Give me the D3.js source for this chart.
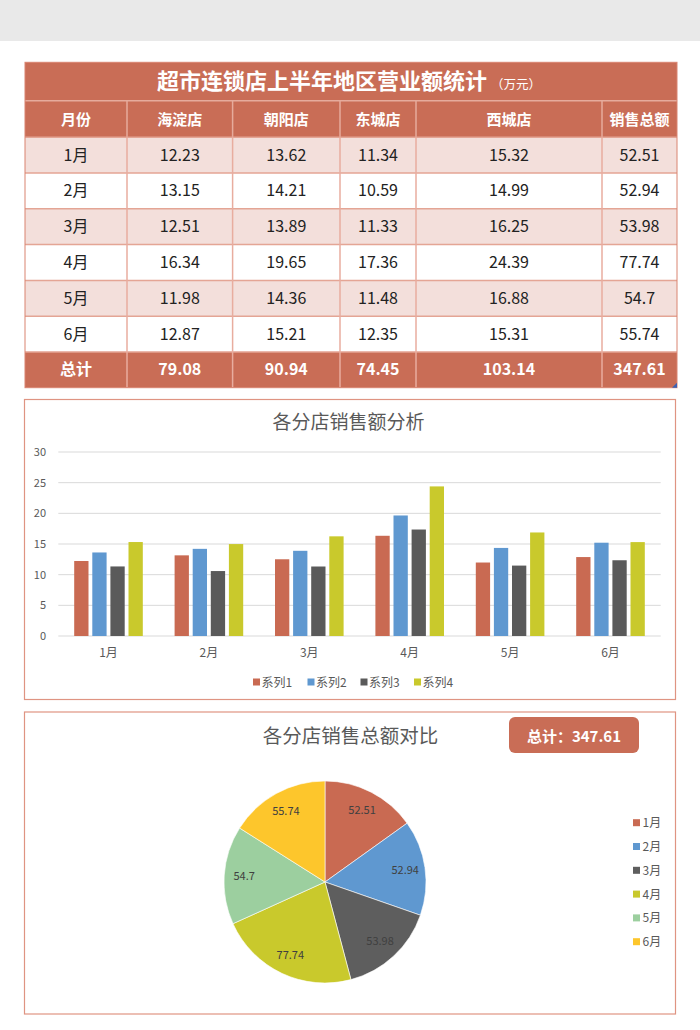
<!DOCTYPE html>
<html><head><meta charset="utf-8">
<script src="https://cdn.jsdelivr.net/npm/d3@7"></script>
<style>
html,body{margin:0;padding:0;background:#fff;}
svg{display:block;font-family:"Noto Sans CJK SC","Noto Sans",sans-serif;}
</style></head>
<body><svg id="c" width="700" height="1030"></svg>
<script>
const months = ['1月','2月','3月','4月','5月','6月'];
const stores = ['海淀店','朝阳店','东城店','西城店'];
const haidian   = [12.23,13.15,12.51,16.34,11.98,12.87];
const chaoyang  = [13.62,14.21,13.89,19.65,14.36,15.21];
const dongcheng = [11.34,10.59,11.33,17.36,11.48,12.35];
const xicheng   = [15.32,14.99,16.25,24.39,16.88,15.31];
const monthTotals = [52.51,52.94,53.98,77.74,54.7,55.74];
const storeTotals = [79.08,90.94,74.45,103.14];
const grandTotal = 347.61;
const seriesNames = ['系列1','系列2','系列3','系列4'];
const yTicks = [0,5,10,15,20,25,30];

const svg = d3.select('#c');
const HEAD = '#c96d56';
const barColors = ['#c96a52','#5f98d0','#5a5a5a','#c9c92c'];
const pieColors = ['#c96a52','#5f98d0','#5e5e5e','#c9c92c','#9ccf9f','#fdc62c'];
const panelBorder = '#df9482';

// gray top band
svg.append('rect').attr('x',0).attr('y',0).attr('width',700).attr('height',41).attr('fill','#e9e9e9');

// ---------- Table ----------
const colEdges = [25,127,232.6,340,416,602,677];
const tTop = 62.3, headTop = 100.7, rowTop = 137.3, rowH = 35.77;
svg.append('rect').attr('x',25).attr('y',tTop).attr('width',652).attr('height',headTop-tTop).attr('fill',HEAD);
svg.append('rect').attr('x',25).attr('y',headTop).attr('width',652).attr('height',rowTop-headTop).attr('fill',HEAD);
const title = svg.append('text').attr('x',349).attr('y',89).attr('text-anchor','middle').attr('fill','#fff');
title.append('tspan').attr('font-size',22).attr('font-weight','bold').text('超市连锁店上半年地区营业额统计');
title.append('tspan').attr('font-size',12.5).attr('dx',4).text('（万元）');

const headers = ['月份'].concat(stores).concat(['销售总额']);
const colCenter = i => (colEdges[i]+colEdges[i+1])/2;
for(let i=1;i<colEdges.length-1;i++){
  svg.append('line').attr('x1',colEdges[i]).attr('x2',colEdges[i]).attr('y1',headTop).attr('y2',rowTop)
    .attr('stroke','#e6ab9c').attr('stroke-width',1.5);
}
svg.append('line').attr('x1',25).attr('x2',677).attr('y1',headTop).attr('y2',headTop).attr('stroke','#e6ab9c').attr('stroke-width',1.5);
headers.forEach((h,i)=>{
  svg.append('text').attr('x',colCenter(i)).attr('y',rowTop-(rowTop-headTop)/2+5.5).attr('text-anchor','middle')
    .attr('fill','#fff').attr('font-size',15).attr('font-weight','bold').text(h);
});
const storeData = [haidian,chaoyang,dongcheng,xicheng];
months.forEach((m,r)=>{
  const y = rowTop + r*rowH;
  svg.append('rect').attr('x',25).attr('y',y).attr('width',652).attr('height',rowH)
    .attr('fill', r%2===0 ? '#f3dfdb' : '#ffffff');
  const vals = [m].concat(storeData.map(s=>String(s[r]))).concat([String(monthTotals[r])]);
  vals.forEach((v,i)=>{
    svg.append('text').attr('x',colCenter(i)).attr('y',y+rowH/2+5.5).attr('text-anchor','middle')
      .attr('fill','#222').attr('font-size',16).text(v);
  });
});
const ty = rowTop + 6*rowH;
svg.append('rect').attr('x',25).attr('y',ty).attr('width',652).attr('height',rowH).attr('fill',HEAD);
const totVals = ['总计'].concat(storeTotals.map(String)).concat([String(grandTotal)]);
totVals.forEach((v,i)=>{
  svg.append('text').attr('x',colCenter(i)).attr('y',ty+rowH/2+5.5).attr('text-anchor','middle')
    .attr('fill','#fff').attr('font-size',16).attr('font-weight','bold').text(v);
});
for(let r=0;r<=6;r++){
  svg.append('line').attr('x1',25).attr('x2',677).attr('y1',rowTop+r*rowH).attr('y2',rowTop+r*rowH)
    .attr('stroke','#e4a595').attr('stroke-width',1.5);
}
for(let i=1;i<colEdges.length-1;i++){
  svg.append('line').attr('x1',colEdges[i]).attr('x2',colEdges[i]).attr('y1',rowTop).attr('y2',ty+rowH)
    .attr('stroke','#e8ad9f').attr('stroke-width',1.5);
}
svg.append('rect').attr('x',25).attr('y',tTop).attr('width',652).attr('height',ty+rowH-tTop)
  .attr('fill','none').attr('stroke','#d98470').attr('stroke-width',1);
svg.append('path').attr('d',`M677,${ty+rowH-5} L677,${ty+rowH} L672,${ty+rowH} Z`).attr('fill','#3b63b5');

// ---------- Bar chart ----------
svg.append('rect').attr('x',24.5).attr('y',399.5).attr('width',651).attr('height',300)
  .attr('fill','#fff').attr('stroke',panelBorder).attr('stroke-width',1.2);
svg.append('text').attr('x',348.5).attr('y',429).attr('text-anchor','middle').attr('fill','#595959')
  .attr('font-size',19).text('各分店销售额分析');

const y = d3.scaleLinear().domain([0,30]).range([636,452]);
const x0 = d3.scaleBand().domain(months).range([58.3,660.7]).paddingInner(0).paddingOuter(0);
const x1 = d3.scaleBand().domain(seriesNames).range([0,68.6]).paddingInner(0.21).paddingOuter(0);
const gBar = svg.append('g');
gBar.selectAll('line.grid').data(yTicks).enter().append('line')
  .attr('x1',58.3).attr('x2',660.7).attr('y1',d=>y(d)).attr('y2',d=>y(d))
  .attr('stroke','#d9d9d9').attr('stroke-width',1);
gBar.selectAll('text.yt').data(yTicks).enter().append('text')
  .attr('x',46).attr('y',d=>y(d)+4).attr('text-anchor','end').attr('fill','#595959').attr('font-size',11)
  .text(d=>d);
months.forEach((m,i)=>{
  const cx = x0(m)+x0.bandwidth()/2;
  const g = gBar.append('g').attr('transform',`translate(${cx-34.3},0)`);
  storeData.forEach((s,k)=>{
    g.append('rect').attr('x',x1(seriesNames[k])).attr('y',y(s[i])).attr('width',x1.bandwidth())
      .attr('height',y(0)-y(s[i])).attr('fill',barColors[k]);
  });
  gBar.append('text').attr('x',cx).attr('y',657).attr('text-anchor','middle').attr('fill','#595959')
    .attr('font-size',12).text(m);
});
const legX = [253,307.5,360.5,414];
seriesNames.forEach((s,k)=>{
  svg.append('rect').attr('x',legX[k]).attr('y',678.5).attr('width',7).attr('height',7).attr('fill',barColors[k]);
  svg.append('text').attr('x',legX[k]+8.5).attr('y',686.5).attr('fill','#595959').attr('font-size',12).text(s);
});

// ---------- Pie chart ----------
svg.append('rect').attr('x',24.5).attr('y',712).attr('width',651).attr('height',302)
  .attr('fill','#fff').attr('stroke',panelBorder).attr('stroke-width',1.2);
svg.append('text').attr('x',350.5).attr('y',743).attr('text-anchor','middle').attr('fill','#595959')
  .attr('font-size',19.5).text('各分店销售总额对比');
svg.append('rect').attr('x',509).attr('y',717).attr('width',130).attr('height',36).attr('rx',6)
  .attr('fill',HEAD);
svg.append('text').attr('x',574).attr('y',742).attr('text-anchor','middle').attr('fill','#fff')
  .attr('font-size',15).attr('font-weight','bold').text('总计：' + grandTotal);

const pcx = 325, pcy = 882, pr = 101;
const pie = d3.pie().sort(null).value(d=>d)(monthTotals);
const arc = d3.arc().innerRadius(0).outerRadius(pr);
const lab = d3.arc().innerRadius(81).outerRadius(81);
const gp = svg.append('g').attr('transform',`translate(${pcx},${pcy})`);
gp.selectAll('path').data(pie).enter().append('path').attr('d',arc)
  .attr('fill',(d,i)=>pieColors[i]).attr('stroke','#fff').attr('stroke-width',0.6);
gp.selectAll('text').data(pie).enter().append('text')
  .attr('transform',d=>`translate(${lab.centroid(d)})`).attr('text-anchor','middle').attr('dy','0.35em')
  .attr('fill','#404040').attr('font-size',11).text(d=>String(d.data));

months.forEach((m,i)=>{
  const ly = 822.7 + i*23.8;
  svg.append('rect').attr('x',633).attr('y',ly-3.5).attr('width',7).attr('height',7).attr('fill',pieColors[i]);
  svg.append('text').attr('x',642.5).attr('y',ly+4.5).attr('fill','#595959').attr('font-size',12).text(m);
});
</script></body></html>
